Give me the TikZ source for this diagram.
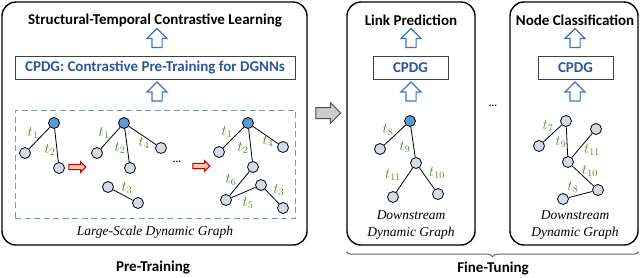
\documentclass[tikz,border=0pt]{standalone}
\usepackage{fontspec}
\setmainfont{Liberation Serif}
\newfontfamily\headfont{Carlito}
\usetikzlibrary{shapes.arrows, decorations.pathreplacing, calc}
\definecolor{nodecolor}{RGB}{214,220,229}
\definecolor{rootcolor}{RGB}{91,155,213}
\definecolor{timecolor}{RGB}{84,130,53}
\definecolor{cpdgcolor}{RGB}{47,85,151}
\definecolor{arrowcolor}{RGB}{68,114,196}
\definecolor{dashcolor}{RGB}{132,151,176}
\definecolor{redcolor}{RGB}{192,0,0}
\definecolor{salmoncolor}{RGB}{248,203,173}

\begin{document}
\begin{tikzpicture}[
    x=1pt, y=-1pt,
    panel/.style={draw, line width=1.4pt, rounded corners=14pt, minimum height=243, inner sep=0},
    modelbox/.style={draw, line width=1pt, draw=black!75, minimum height=23, inner sep=0, text=cpdgcolor, font=\headfont\bfseries\fontsize{15}{15}\selectfont},
    title/.style={font=\headfont\bfseries\fontsize{15}{15}\selectfont},
    caption/.style={font=\itshape\fontsize{13.5}{17}\selectfont, align=center},
    uparrow/.style={single arrow, draw=arrowcolor, fill=white, line width=1.1pt, shape border rotate=90, minimum height=19, inner sep=4.5, single arrow head extend=5},
    redarrow/.style={single arrow, draw=redcolor, fill=salmoncolor, line width=1pt, minimum height=17, inner sep=2.2, single arrow head extend=2.6},
    vertex/.style={circle, draw, fill=nodecolor, line width=0.8pt, minimum size=11, inner sep=0},
    root/.style={vertex, fill=rootcolor},
    tlabel/.style={text=timecolor, inner sep=0, font=\fontsize{14}{14}\selectfont}
]
\useasboundingbox (0,0) rectangle (640,277);

% Pre-training panel
\node[panel, minimum width=305] (pre) at (154.5,123.5) {};
\node[title] (pretitle) at (155,20) {Structural-Temporal Contrastive Learning};
\node[uparrow] (prearrowa) at (157,40.5) {};
\node[modelbox, minimum width=280] (premodel) at (155,67.5) {CPDG: Contrastive Pre-Training for DGNNs};
\node[uparrow] (prearrowb) at (157,94) {};
\node[draw=dashcolor, dash pattern=on 6pt off 3.5pt, line width=1pt, minimum width=280, minimum height=108, inner sep=0] (pregraph) at (155,164) {};
\node[caption] (precaption) at (155,232) {Large-Scale Dynamic Graph};

% Graph snapshot 1
\node[root] (a1) at (54,123) {};
\node[vertex] (a2) at (25,153) {};
\node[vertex] (a3) at (59,168) {};
\draw[line width=0.8pt] (a1) -- (a2) (a1) -- (a3);
\node[tlabel] (la1) at (33,133) {$t_1$};
\node[tlabel] (la2) at (50,150) {$t_2$};

\node[redarrow] (reda) at (76,167) {};

% Graph snapshot 2
\node[root] (b1) at (124,123) {};
\node[vertex] (b2) at (97,153) {};
\node[vertex] (b3) at (130,168) {};
\node[vertex] (b4) at (161,148) {};
\node[vertex] (b5) at (108,187) {};
\node[vertex] (b6) at (138,203) {};
\draw[line width=0.8pt] (b1) -- (b2) (b1) -- (b3) (b1) -- (b4) (b5) -- (b6);
\node[tlabel] (lb1) at (104,133) {$t_1$};
\node[tlabel] (lb2) at (120,148) {$t_2$};
\node[tlabel] (lb4) at (144,143) {$t_4$};
\node[tlabel] (lb3) at (127,188) {$t_3$};

\node[font=\headfont\bfseries] (dotsa) at (177,162) {...};
\node[redarrow] (redb) at (200,166) {};

% Graph snapshot 3
\node[root] (c1) at (248,123) {};
\node[vertex] (c2) at (219,152) {};
\node[vertex] (c3) at (283,147) {};
\node[vertex] (c4) at (253,167) {};
\node[vertex] (c5) at (226,200) {};
\node[vertex] (c6) at (261,185) {};
\node[vertex] (c7) at (283,208) {};
\draw[line width=0.8pt] (c1) -- (c2) (c1) -- (c4) (c1) -- (c3) (c4) -- (c5) (c5) -- (c6) (c6) -- (c7);
\node[tlabel] (lc1) at (227,132) {$t_1$};
\node[tlabel] (lc2) at (243,148) {$t_2$};
\node[tlabel] (lc4) at (268,141) {$t_4$};
\node[tlabel] (lc6) at (231,180) {$t_6$};
\node[tlabel] (lc5) at (248,203) {$t_5$};
\node[tlabel] (lc3) at (279,190) {$t_3$};

\node[title] (prelabel) at (153,268) {Pre-Training};

% Transfer arrow
\node[single arrow, draw=black!70, fill=black!20, line width=1pt, minimum height=25, inner sep=5, single arrow head extend=5] (transfer) at (325.5,113) {};

% Link prediction panel
\node[panel, minimum width=128] (lp) at (411,123.5) {};
\node[title] (lptitle) at (411,20) {Link Prediction};
\node[uparrow] (lparrowa) at (411,40.5) {};
\node[modelbox, minimum width=75] (lpmodel) at (410.5,67.5) {CPDG};
\node[uparrow] (lparrowb) at (411,94) {};
\node[root] (d1) at (410,121) {};
\node[vertex] (d2) at (380,149) {};
\node[vertex] (d3) at (416,163) {};
\node[vertex] (d4) at (393,197) {};
\node[vertex] (d5) at (438,194) {};
\draw[line width=0.8pt] (d1) -- (d2) (d1) -- (d3) (d3) -- (d4) (d3) -- (d5);
\node[tlabel] (ld8) at (388,130) {$t_8$};
\node[tlabel] (ld9) at (405,147) {$t_9$};
\node[tlabel] (ld11) at (393,175) {$t_{11}$};
\node[tlabel] (ld10) at (437,173) {$t_{10}$};
\node[caption] (lpcaption) at (411,225.5) {Downstream\\Dynamic Graph};

\node[font=\headfont\bfseries] (dotsb) at (493,106) {...};

% Node classification panel
\node[panel, minimum width=128] (nc) at (574,123.5) {};
\node[title] (nctitle) at (575,20) {Node Classification};
\node[uparrow] (ncarrowa) at (575,40.5) {};
\node[modelbox, minimum width=75] (ncmodel) at (575.5,67.5) {CPDG};
\node[uparrow] (ncarrowb) at (575,94) {};
\node[vertex] (e1) at (566,121) {};
\node[vertex] (e2) at (539,146) {};
\node[vertex] (e3) at (596,129) {};
\node[vertex] (e4) at (568,162) {};
\node[vertex] (e5) at (598,190) {};
\node[vertex] (e6) at (563,199) {};
\draw[line width=0.8pt] (e1) -- (e2) (e1) -- (e4) (e3) -- (e4) (e4) -- (e5) (e5) -- (e6);
\node[tlabel] (le7) at (548,126) {$t_7$};
\node[tlabel] (le9) at (561,142) {$t_9$};
\node[tlabel] (le11) at (592,150) {$t_{11}$};
\node[tlabel] (le10) at (590,171) {$t_{10}$};
\node[tlabel] (le8) at (573,187) {$t_8$};
\node[caption] (nccaption) at (575,225.5) {Downstream\\Dynamic Graph};

% Fine-tuning brace
\draw[decorate, decoration={brace, mirror, amplitude=5pt}, draw=black!60, line width=1pt]
    ($(lp.south west)+(0,6)$) -- ($(nc.south east)+(0,6)$);
\node[title] (ftlabel) at (493,269) {Fine-Tuning};

\end{tikzpicture}
\end{document}
